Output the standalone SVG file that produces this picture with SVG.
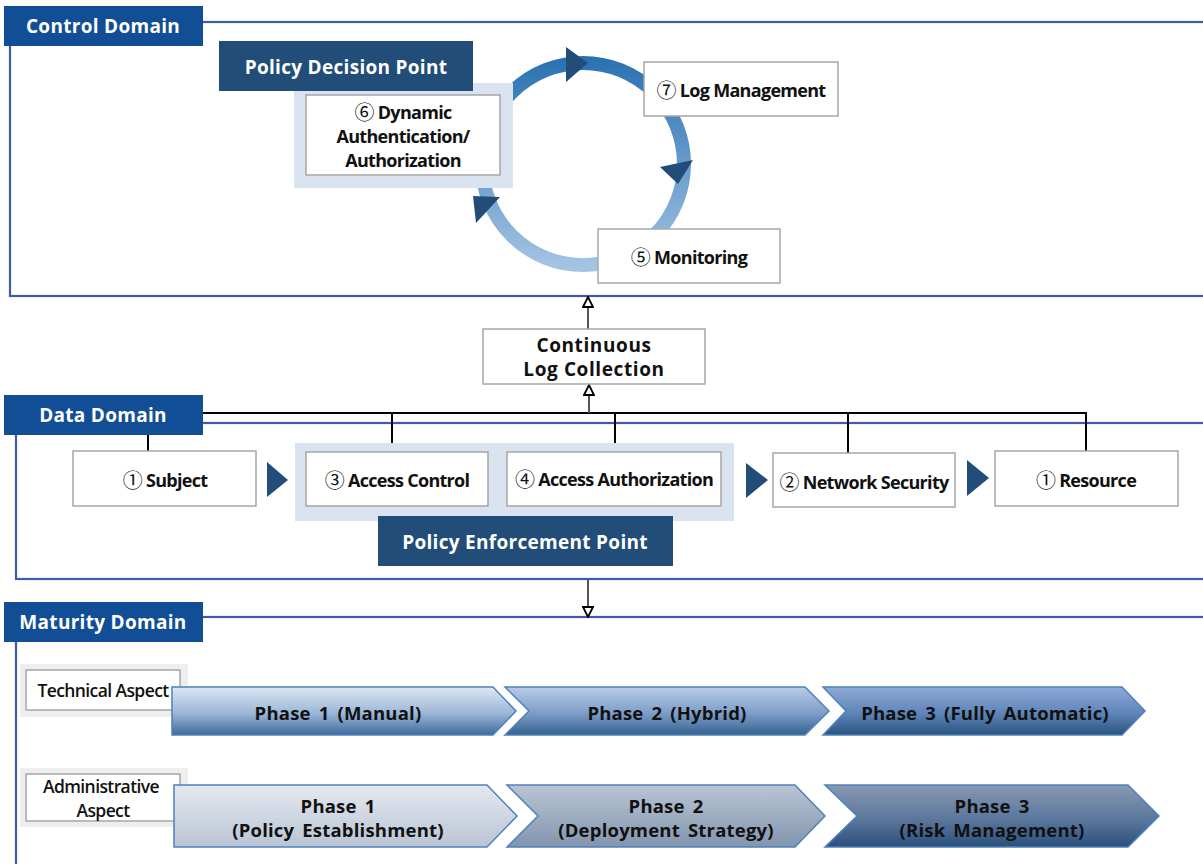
<svg xmlns="http://www.w3.org/2000/svg" width="1203" height="864" viewBox="0 0 1203 864">
<defs>
<style>
.frame{fill:none;stroke:#3d5ba9;stroke-width:2.2}
.hdr{fill:#124e96}
.hdrtxt{font-family:"Open Sans","Noto Sans",sans-serif;font-weight:700;font-size:19px;fill:#fff;text-anchor:middle;dominant-baseline:central;letter-spacing:0.3px}
.pp{fill:#214d78}
.ppbg{fill:#dae3f0}
.box{fill:#fff;stroke:#a6a6a6;stroke-width:1.5}
.bt{font-family:"Open Sans","Noto Sans","Noto Sans CJK KR",sans-serif;font-weight:700;font-size:18px;fill:#111;text-anchor:middle;dominant-baseline:central;letter-spacing:-0.7px}
.cn{font-size:20px;font-weight:400}
.bt2{font-family:"Open Sans","Noto Sans",sans-serif;font-weight:700;font-size:19px;fill:#111;text-anchor:middle;dominant-baseline:central;letter-spacing:0.6px}
.at{font-family:"Open Sans","Noto Sans",sans-serif;font-weight:600;font-size:17.5px;fill:#111;text-anchor:middle;dominant-baseline:central;letter-spacing:-0.6px}
.ph{font-family:"Open Sans","Noto Sans",sans-serif;font-weight:700;font-size:18.5px;fill:#111;text-anchor:middle;dominant-baseline:central;word-spacing:3px;letter-spacing:0.2px}
.tri{fill:#214d78}
.conn{fill:none;stroke:#000;stroke-width:2}
.arr{fill:none;stroke:#555;stroke-width:2}
.asp{fill:#eeeeee}
.chev{stroke:#4f81b9;stroke-width:1.5}
</style>
<linearGradient id="ring" x1="0" y1="60" x2="0" y2="268" gradientUnits="userSpaceOnUse">
<stop offset="0" stop-color="#2b72b2"/>
<stop offset="1" stop-color="#a4c4e4"/>
</linearGradient>
<linearGradient id="g11" x1="0" y1="0" x2="0" y2="1"><stop offset="0" stop-color="#dde7f3"/><stop offset="0.55" stop-color="#9bb6d6"/><stop offset="1" stop-color="#3d6b9c"/></linearGradient>
<linearGradient id="g12" x1="0" y1="0" x2="0" y2="1"><stop offset="0" stop-color="#b8cce8"/><stop offset="0.55" stop-color="#7d9dc8"/><stop offset="1" stop-color="#35628f"/></linearGradient>
<linearGradient id="g13" x1="0" y1="0" x2="0" y2="1"><stop offset="0" stop-color="#8fabd8"/><stop offset="0.55" stop-color="#5f84b8"/><stop offset="1" stop-color="#28547f"/></linearGradient>
<linearGradient id="g21" x1="0" y1="0" x2="0" y2="1"><stop offset="0" stop-color="#e4e9f0"/><stop offset="1" stop-color="#b9c4d4"/></linearGradient>
<linearGradient id="g22" x1="0" y1="0" x2="0" y2="1"><stop offset="0" stop-color="#bac5d4"/><stop offset="1" stop-color="#8295ae"/></linearGradient>
<linearGradient id="g23" x1="0" y1="0" x2="0" y2="1"><stop offset="0" stop-color="#8899b2"/><stop offset="0.6" stop-color="#57739a"/><stop offset="1" stop-color="#2a4f7c"/></linearGradient>
<marker id="hollow" viewBox="0 0 12 12" refX="11" refY="6" markerWidth="12" markerHeight="12" markerUnits="userSpaceOnUse" orient="auto">
<path d="M1,1 L11,6 L1,11 z" fill="#fff" stroke="#000" stroke-width="1.8"/>
</marker>
</defs>
<rect width="1203" height="864" fill="#fff"/>

<!-- Domains -->
<g id="control-domain">
<rect class="frame" x="10" y="22" width="1200" height="274"/>
<rect class="hdr" x="4" y="6" width="199" height="40"/>
<text class="hdrtxt" x="103" y="26">Control Domain</text>
</g>
<g id="data-domain">
<rect class="frame" x="16" y="423" width="1200" height="156"/>
<rect class="hdr" x="4" y="395" width="199" height="40"/>
<text class="hdrtxt" x="103" y="415">Data Domain</text>
</g>
<g id="maturity-domain">
<rect class="frame" x="16" y="617" width="1200" height="260"/>
<rect class="hdr" x="4" y="602" width="199" height="40"/>
<text class="hdrtxt" x="103" y="622">Maturity Domain</text>
</g>

<!-- Cycle -->
<g id="cycle">
<circle cx="583" cy="164" r="101" fill="none" stroke="url(#ring)" stroke-width="14"/>
<polygon class="tri" points="566,47 566,82 588,63"/>
<polygon class="tri" points="660,167 693,160 678,184"/>
<polygon class="tri" points="473,196 500,197 476,223"/>
</g>

<!-- Connectors -->
<g id="connectors">
<path class="conn" d="M203,413 H1086 V451 M148,435 V451 M392,413 V443 M615,413 V443 M848,413 V453"/>
<line class="arr" x1="589" y1="413" x2="589" y2="385" marker-end="url(#hollow)"/>
<line class="arr" x1="588" y1="329" x2="588" y2="297" marker-end="url(#hollow)"/>
<line class="arr" x1="588" y1="580" x2="588" y2="617" marker-end="url(#hollow)"/>
<polygon class="tri" points="267,462 267,497 288,480"/>
<polygon class="tri" points="746,463 746,498 768,480"/>
<polygon class="tri" points="967,460 967,496 989,478"/>
</g>

<!-- PDP -->
<g id="pdp">
<rect class="ppbg" x="294" y="83" width="219" height="105"/>
<rect class="pp" x="219" y="41" width="254" height="50"/>
<text class="hdrtxt" x="346" y="67">Policy Decision Point</text>
</g>
<g id="node-dynamic-auth">
<rect class="box" x="306" y="95" width="194" height="80"/>
<text class="bt" x="403" y="112"><tspan class="cn">⑥</tspan> Dynamic</text>
<text class="bt" x="403" y="136">Authentication/</text>
<text class="bt" x="403" y="160">Authorization</text>
</g>
<g id="node-log-management">
<rect class="box" x="644" y="62" width="194" height="54"/>
<text class="bt" x="741" y="90"><tspan class="cn">⑦</tspan>  Log Management</text>
</g>
<g id="node-monitoring">
<rect class="box" x="598" y="229" width="182" height="54"/>
<text class="bt" x="689" y="257"><tspan class="cn">⑤</tspan> Monitoring</text>
</g>

<g id="node-log-collection">
<rect class="box" x="483" y="329" width="222" height="55"/>
<text class="bt2" x="594" y="345">Continuous</text>
<text class="bt2" x="594" y="369">Log Collection</text>
</g>

<!-- Data domain nodes -->
<g id="node-subject">
<rect class="box" x="73" y="451" width="183" height="55"/>
<text class="bt" x="165" y="480"><tspan class="cn">①</tspan>  Subject</text>
</g>
<g id="pep">
<rect class="ppbg" x="295" y="443" width="439" height="78"/>
<rect class="pp" x="378" y="516" width="295" height="50"/>
<text class="hdrtxt" x="525" y="542">Policy Enforcement Point</text>
</g>
<g id="node-access-control">
<rect class="box" x="306" y="452" width="182" height="54"/>
<text class="bt" x="397" y="480"><tspan class="cn">③</tspan>  Access Control</text>
</g>
<g id="node-access-authorization">
<rect class="box" x="507" y="452" width="214" height="54"/>
<text class="bt" x="614" y="479"><tspan class="cn">④</tspan> Access Authorization</text>
</g>
<g id="node-network-security">
<rect class="box" x="773" y="453" width="182" height="54"/>
<text class="bt" x="864" y="482"><tspan class="cn">②</tspan>  Network Security</text>
</g>
<g id="node-resource">
<rect class="box" x="995" y="451" width="183" height="55"/>
<text class="bt" x="1086" y="480"><tspan class="cn">①</tspan> Resource</text>
</g>

<!-- Maturity -->
<g id="technical-aspect">
<rect class="asp" x="20" y="664" width="168" height="53"/>
<rect class="box" x="26" y="670" width="154" height="40"/>
<text class="at" x="103" y="690">Technical Aspect</text>
</g>
<g id="administrative-aspect">
<rect class="asp" x="20" y="768" width="168" height="59"/>
<rect class="box" x="26" y="774" width="154" height="47"/>
<text class="at" x="101" y="786">Administrative</text>
<text class="at" x="103" y="810">Aspect</text>
</g>
<g id="tech-phase1">
<polygon class="chev" fill="url(#g11)" points="172,687 493,687 516,711 493,735 172,735"/>
<text class="ph" x="338" y="712">Phase 1 (Manual)</text>
</g>
<g id="tech-phase2">
<polygon class="chev" fill="url(#g12)" points="505,687 805,687 829,711 805,735 505,735 529,711"/>
<text class="ph" x="667" y="712">Phase 2 (Hybrid)</text>
</g>
<g id="tech-phase3">
<polygon class="chev" fill="url(#g13)" points="823,687 1122,687 1145,711 1122,735 823,735 846,711"/>
<text class="ph" x="985" y="712">Phase 3 (Fully Automatic)</text>
</g>
<g id="admin-phase1">
<polygon class="chev" fill="url(#g21)" points="174,785 487,785 517,816 487,847 174,847"/>
<text class="ph" x="338" y="805">Phase 1</text>
<text class="ph" x="338" y="829">(Policy Establishment)</text>
</g>
<g id="admin-phase2">
<polygon class="chev" fill="url(#g22)" points="507,785 795,785 825,816 795,847 507,847 538,816"/>
<text class="ph" x="666" y="805">Phase 2</text>
<text class="ph" x="666" y="829">(Deployment Strategy)</text>
</g>
<g id="admin-phase3">
<polygon class="chev" fill="url(#g23)" points="825,785 1128,785 1159,816 1128,847 825,847 857,816"/>
<text class="ph" x="992" y="805">Phase 3</text>
<text class="ph" x="992" y="829">(Risk Management)</text>
</g>
</svg>
